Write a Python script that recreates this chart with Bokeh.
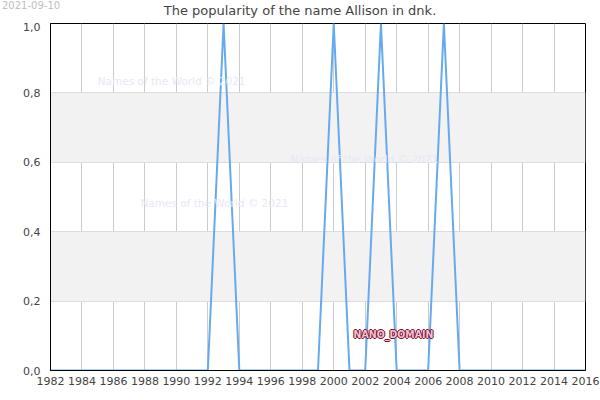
from bokeh.plotting import figure
from bokeh.models import Range1d, FixedTicker, CustomJSTickFormatter, Label, Div
from bokeh.layouts import column
from bokeh.embed import file_html
from bokeh.resources import INLINE

years = [1982, 1983, 1984, 1985, 1986, 1987, 1988, 1989, 1990, 1991, 1992,
         1993, 1994, 1995, 1996, 1997, 1998, 1999, 2000, 2001, 2002, 2003,
         2004, 2005, 2006, 2007, 2008, 2009, 2010, 2011, 2012, 2013, 2014,
         2015, 2016]
popularity = [0, 0, 0, 0, 0, 0, 0, 0, 0, 0, 0,
              1, 0, 0, 0, 0, 0, 0, 1, 0, 0, 1,
              0, 0, 0, 1, 0, 0, 0, 0, 0, 0, 0,
              0, 0]
x_ticks = [1982, 1984, 1986, 1988, 1990, 1992, 1994, 1996, 1998, 2000, 2002,
           2004, 2006, 2008, 2010, 2012, 2014, 2016]
y_ticks = [0.0, 0.2, 0.4, 0.6, 0.8, 1.0]
title_text = "The popularity of the name Allison in dnk."
date_text = "2021-09-10"
watermark = "Names of the World © 2021"
nano = "NANO_DOMAIN"

header = Div(width=600, height=22, margin=0, text=(
    '<div style="position:relative;width:600px;height:22px;font-family:\'DejaVu Sans\';">'
    '<span style="position:absolute;left:2px;top:0px;font-size:10px;line-height:normal;'
    'color:#c0c0c0;white-space:nowrap;">' + date_text + '</span>'
    '<span style="position:absolute;left:0;width:600px;top:3px;text-align:center;font-size:13px;'
    'line-height:normal;color:#444444;white-space:nowrap;">' + title_text + '</span>'
    '</div>'))

p = figure(width=600, height=378, output_backend="svg", toolbar_location=None,
           x_range=Range1d(1982, 2016), y_range=Range1d(0, 1),
           min_border_left=50, min_border_right=15, min_border_top=1,
           min_border_bottom=30)
p.background_fill_color = "white"
p.border_fill_color = "white"
p.outline_line_color = "black"
p.outline_line_width = 1

p.xaxis.ticker = FixedTicker(ticks=x_ticks)
p.yaxis.ticker = FixedTicker(ticks=y_ticks)
p.yaxis.formatter = CustomJSTickFormatter(code="return tick.toFixed(1).replace('.', ',');")
for ax in (p.xaxis, p.yaxis):
    ax.axis_line_color = "black"
    ax.major_tick_in = 0
    ax.major_tick_out = 0
    ax.minor_tick_line_color = None
    ax.major_label_text_font = "DejaVu Sans"
    ax.major_label_text_font_size = "11px"
    ax.major_label_text_color = "#444444"
p.xaxis.major_label_standoff = 6
p.yaxis.major_label_standoff = 10

p.xgrid.grid_line_color = "#cccccc"
p.ygrid.grid_line_color = "#dddddd"
p.ygrid.band_fill_color = "#f2f2f2"
p.ygrid.band_fill_alpha = 1.0

p.line(years, popularity, line_color="#66aaee", line_width=2)

def lab(x, y, text, color, size, align="left", style="normal", font="DejaVu Sans"):
    l = Label(x=x, y=y, text=text, text_color=color, text_font=font,
              text_font_size=size, text_align=align, text_baseline="middle",
              text_font_style=style)
    p.add_layout(l)
    return l

lab(1985.0, 0.834, watermark, "#e8e8f8", "10.5px")
lab(1997.25, 0.609, watermark, "#e8e8f8", "10.5px")
lab(1987.72, 0.483, watermark, "#e8e8f8", "10.5px")

for dx, dy in [(-1, 0), (1, 0), (0, -1), (0, 1)]:
    l = Label(x=2001.26, y=0.105, text=nano, text_color="#7a0a30",
              text_font="DejaVu Sans Condensed", text_font_size="10.5px",
              text_font_style="bold", text_baseline="middle", x_offset=dx, y_offset=dy)
    p.add_layout(l)
lab(2001.26, 0.105, nano, "#f2c4d2", "10.5px", style="bold", font="DejaVu Sans Condensed")

layout = column(header, p, spacing=0)
open("out.html", "w").write(file_html(layout, INLINE))
